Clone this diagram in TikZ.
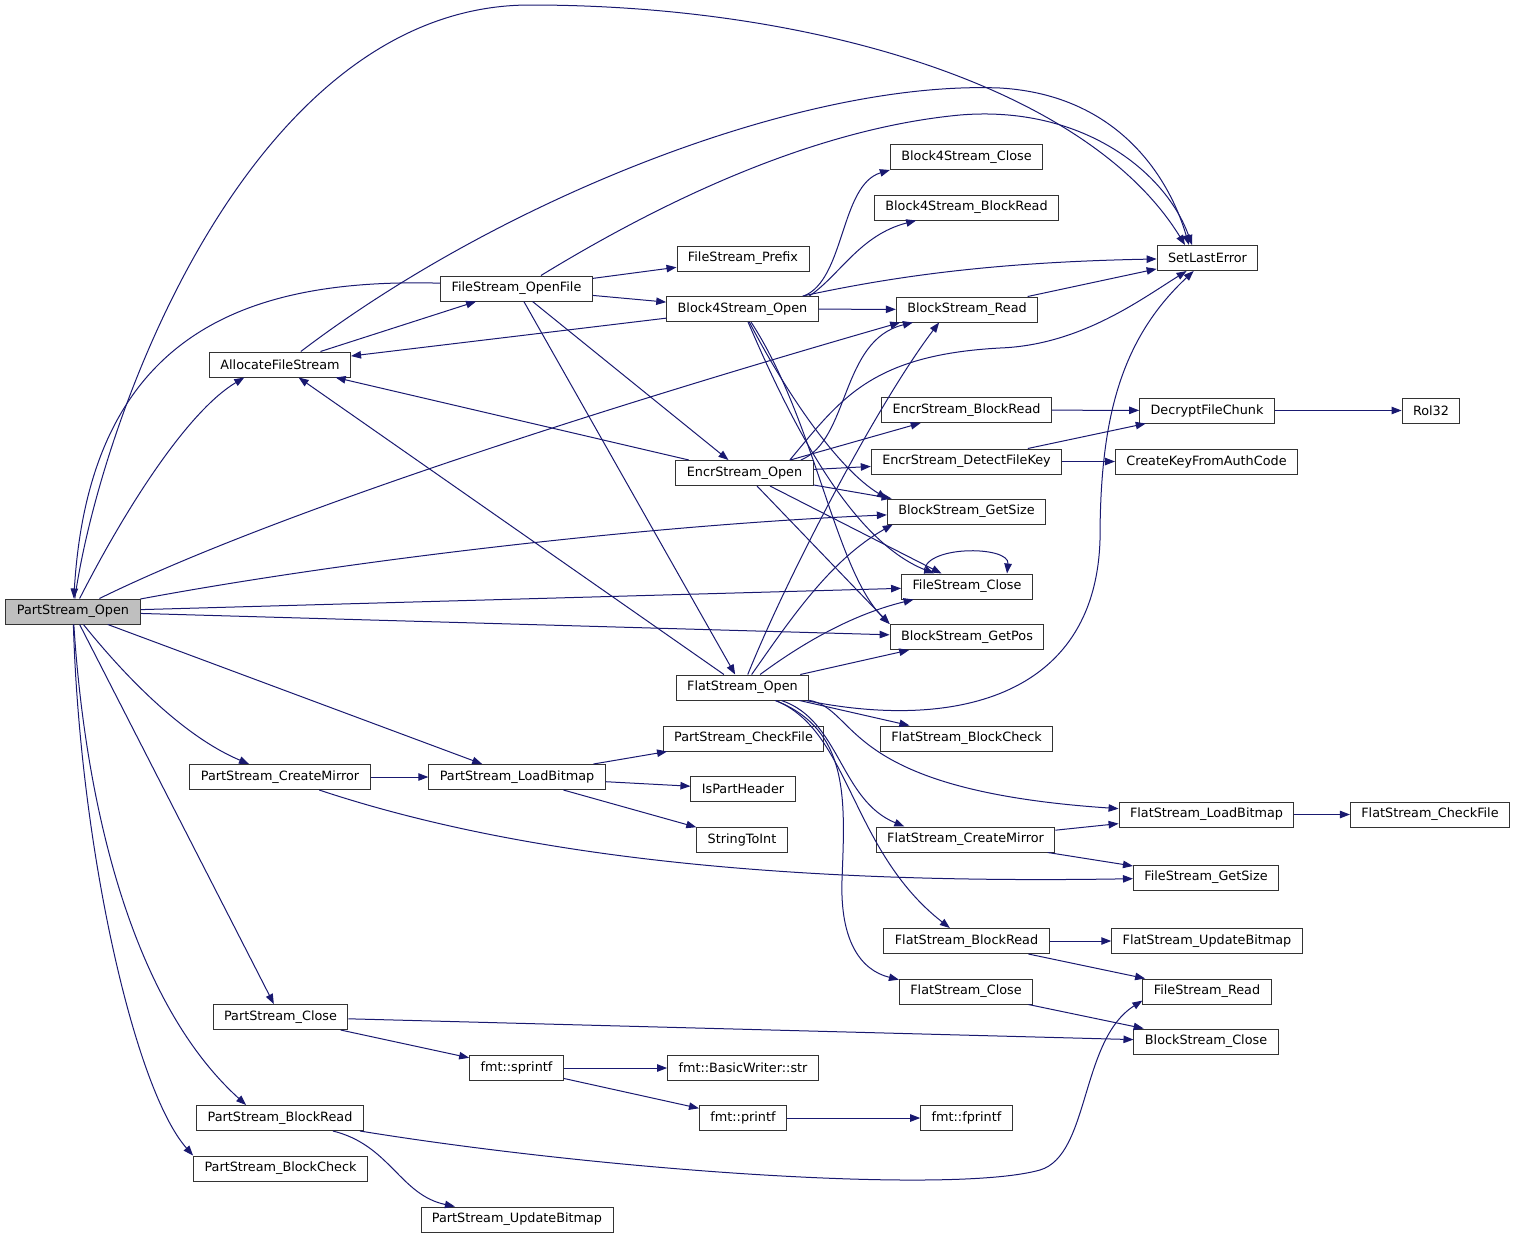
\documentclass[tikz,border=0pt]{standalone}
\usepackage{fontspec}
\setmainfont{DejaVu Sans}
\usetikzlibrary{arrows.meta}

\definecolor{edgeblue}{RGB}{25,25,112}

\begin{document}
\begin{tikzpicture}[
    x = 0.75pt, y = -0.75pt,
    func/.style = {draw = black!80, fill = white, line width = 0.75pt,
      inner xsep = 8.2pt, inner ysep = 0pt, minimum height = 18.75pt,
      font = \fontsize{9.6}{11}\selectfont},
    call/.style = {draw = edgeblue, line width = 0.75pt,
      -{Triangle[length = 7.5pt, width = 5.6pt]}}
  ]
    \useasboundingbox (0, 0) rectangle (1516, 1239);

    % functions
    \node[func, fill = black!25] (partOpen) at (73, 611.5) {PartStream\_Open};
    \node[func] (allocFS) at (280, 364.5) {AllocateFileStream};
    \node[func] (fsOpenFile) at (516.5, 288.5) {FileStream\_OpenFile};
    \node[func] (fsPrefix) at (743, 258.5) {FileStream\_Prefix};
    \node[func] (b4Open) at (742.5, 309) {Block4Stream\_Open};
    \node[func] (b4Close) at (966.5, 157) {Block4Stream\_Close};
    \node[func] (b4BlockRead) at (966.5, 207.5) {Block4Stream\_BlockRead};
    \node[func] (setErr) at (1207.5, 258) {SetLastError};
    \node[func] (bsRead) at (967, 309.5) {BlockStream\_Read};
    \node[func] (encBlockRead) at (966.5, 410) {EncrStream\_BlockRead};
    \node[func] (decrypt) at (1207, 410.5) {DecryptFileChunk};
    \node[func] (rol) at (1431, 410.5) {Rol32};
    \node[func] (encOpen) at (744.5, 473) {EncrStream\_Open};
    \node[func] (encDetect) at (966.5, 461.5) {EncrStream\_DetectFileKey};
    \node[func] (createKey) at (1206.5, 461.5) {CreateKeyFromAuthCode};
    \node[func] (bsGetSize) at (966.5, 511.5) {BlockStream\_GetSize};
    \node[func] (fsClose) at (967, 586.5) {FileStream\_Close};
    \node[func] (bsGetPos) at (967, 637) {BlockStream\_GetPos};
    \node[func] (flatOpen) at (742.5, 687.5) {FlatStream\_Open};
    \node[func] (flatBlockCheck) at (966.5, 738.5) {FlatStream\_BlockCheck};
    \node[func] (partCheckFile) at (743.5, 738.5) {PartStream\_CheckFile};
    \node[func] (isPartHeader) at (743, 789) {IsPartHeader};
    \node[func] (strToInt) at (742, 840) {StringToInt};
    \node[func] (partMirror) at (280, 777) {PartStream\_CreateMirror};
    \node[func] (partLoadBmp) at (517, 777) {PartStream\_LoadBitmap};
    \node[func] (flatLoadBmp) at (1206.5, 814.5) {FlatStream\_LoadBitmap};
    \node[func] (flatCheckFile) at (1430, 814.5) {FlatStream\_CheckFile};
    \node[func] (flatMirror) at (965.5, 839.5) {FlatStream\_CreateMirror};
    \node[func] (fsGetSize) at (1206, 877.5) {FileStream\_GetSize};
    \node[func] (flatBlockRead) at (966.5, 941) {FlatStream\_BlockRead};
    \node[func] (flatUpdBmp) at (1207, 941) {FlatStream\_UpdateBitmap};
    \node[func] (flatClose) at (966, 991.5) {FlatStream\_Close};
    \node[func] (fsRead) at (1207, 991.5) {FileStream\_Read};
    \node[func] (bsClose) at (1206, 1041.5) {BlockStream\_Close};
    \node[func] (partClose) at (280.5, 1017) {PartStream\_Close};
    \node[func] (sprintf) at (516.5, 1068) {fmt::sprintf};
    \node[func] (writerStr) at (743, 1068) {fmt::BasicWriter::str};
    \node[func] (printf) at (743, 1118) {fmt::printf};
    \node[func] (fprintf) at (966.5, 1118) {fmt::fprintf};
    \node[func] (partBlockRead) at (280, 1118) {PartStream\_BlockRead};
    \node[func] (partBlockCheck) at (280.5, 1168.5) {PartStream\_BlockCheck};
    \node[func] (partUpdBmp) at (517, 1219.5) {PartStream\_UpdateBitmap};

    % calls from PartStream_Open
    \draw[call] (partOpen) .. controls (100, 420) and (250, 5) .. (530, 5)
      .. controls (820, 5) and (1090, 90) .. (setErr.150);
    \draw[call] (partOpen) .. controls (130, 500) and (190, 410) .. (allocFS.200);
    \draw[call] (partOpen) .. controls (300, 500) and (700, 380) .. (bsRead.-169);
    \draw[call] (partOpen) .. controls (350, 560) and (650, 525) .. (bsGetSize);
    \draw[call] (partOpen) -- (fsClose);
    \draw[call] (partOpen) -- (bsGetPos);
    \draw[call] (partOpen) -- (partLoadBmp);
    \draw[call] (partOpen) .. controls (120, 670) and (180, 735) .. (partMirror);
    \draw[call] (partOpen) -- (partClose);
    \draw[call] (partOpen) .. controls (85, 800) and (130, 1000) .. (partBlockRead.159);
    \draw[call] (partOpen) .. controls (80, 850) and (135, 1090) .. (partBlockCheck.north west);

    % AllocateFileStream and FileStream_OpenFile
    \draw[call] (allocFS) -- (fsOpenFile);
    \draw[call] (allocFS.32) .. controls (500, 200) and (800, 80) .. (1000, 88)
      .. controls (1120, 95) and (1170, 180) .. (setErr.145);
    \draw[call] (fsOpenFile.176) .. controls (250, 278) and (90, 330) .. (partOpen);
    \draw[call] (fsOpenFile.28) .. controls (640, 215) and (800, 130) .. (960, 115)
      .. controls (1080, 105) and (1165, 170) .. (setErr.140);
    \draw[call] (fsOpenFile) -- (fsPrefix);
    \draw[call] (fsOpenFile) -- (b4Open);
    \draw[call] (fsOpenFile) -- (encOpen);
    \draw[call] (fsOpenFile) -- (flatOpen);

    % Block4Stream_Open
    \draw[call] (b4Open.12) .. controls (845, 280) and (840, 185) .. (b4Close.south west);
    \draw[call] (b4Open.11) .. controls (840, 275) and (860, 235) .. (b4BlockRead);
    \draw[call] (b4Open) .. controls (900, 275) and (1000, 262) .. (setErr);
    \draw[call] (b4Open) -- (bsRead);
    \draw[call] (b4Open) -- (allocFS);
    \draw[call] (b4Open) .. controls (790, 400) and (840, 470) .. (bsGetSize.north west);
    \draw[call] (b4Open) .. controls (790, 420) and (850, 540) .. (fsClose);
    \draw[call] (b4Open) .. controls (815, 420) and (835, 570) .. (bsGetPos.north west);

    % EncrStream_Open
    \draw[call] (encOpen) -- (allocFS);
    \draw[call] (encOpen.13) .. controls (850, 440) and (840, 340) .. (bsRead);
    \draw[call] (encOpen.16) .. controls (840, 400) and (870, 355) .. (1000, 348)
      .. controls (1080, 345) and (1140, 300) .. (setErr);
    \draw[call] (encOpen) -- (encBlockRead);
    \draw[call] (encOpen) -- (encDetect);
    \draw[call] (encOpen) -- (bsGetSize);
    \draw[call] (encOpen) -- (fsClose);
    \draw[call] (encOpen) -- (bsGetPos.north west);

    % FlatStream_Open
    \draw[call] (flatOpen) -- (allocFS);
    \draw[call] (flatOpen) .. controls (790, 570) and (880, 400) .. (bsRead.-155);
    \draw[call] (flatOpen) .. controls (790, 620) and (830, 560) .. (bsGetSize.-170);
    \draw[call] (flatOpen) .. controls (800, 645) and (850, 615) .. (fsClose);
    \draw[call] (flatOpen) -- (bsGetPos);
    \draw[call] (flatOpen) .. controls (950, 730) and (1095, 700) .. (1100, 540)
      .. controls (1100, 420) and (1120, 340) .. (setErr);
    \draw[call] (flatOpen) -- (flatBlockCheck);
    \draw[call] (flatOpen) .. controls (860, 710) and (840, 790) .. (flatLoadBmp);
    \draw[call] (flatOpen) .. controls (840, 720) and (840, 800) .. (flatMirror.168);
    \draw[call] (flatOpen) .. controls (850, 730) and (850, 850) .. (flatBlockRead);
    \draw[call] (flatOpen) .. controls (850, 730) and (845, 800) .. (842, 880)
      .. controls (840, 940) and (860, 970) .. (flatClose.170);

    % the rest
    \draw[call] (bsRead) -- (setErr);
    \draw[call] (fsClose.163) .. controls (920, 545) and (1010, 545) .. (fsClose.18);
    \draw[call] (encBlockRead) -- (decrypt);
    \draw[call] (encDetect) -- (decrypt);
    \draw[call] (encDetect) -- (createKey);
    \draw[call] (decrypt) -- (rol);
    \draw[call] (partMirror) -- (partLoadBmp);
    \draw[call] (partMirror) .. controls (500, 850) and (750, 885) .. (fsGetSize);
    \draw[call] (partLoadBmp) -- (partCheckFile);
    \draw[call] (partLoadBmp) -- (isPartHeader);
    \draw[call] (partLoadBmp) -- (strToInt);
    \draw[call] (flatLoadBmp) -- (flatCheckFile);
    \draw[call] (flatMirror) -- (flatLoadBmp);
    \draw[call] (flatMirror) -- (fsGetSize);
    \draw[call] (flatBlockRead) -- (flatUpdBmp);
    \draw[call] (flatBlockRead) -- (fsRead);
    \draw[call] (flatClose) -- (bsClose);
    \draw[call] (partClose) -- (bsClose);
    \draw[call] (partClose) -- (sprintf);
    \draw[call] (sprintf) -- (writerStr);
    \draw[call] (sprintf) -- (printf);
    \draw[call] (printf) -- (fprintf);
    \draw[call] (partBlockRead) .. controls (390, 1145) and (400, 1195) .. (partUpdBmp);
    \draw[call] (partBlockRead) .. controls (600, 1170) and (950, 1195) .. (1040, 1170)
      .. controls (1090, 1155) and (1080, 1040) .. (fsRead.188);
  \end{tikzpicture}
\end{document}
